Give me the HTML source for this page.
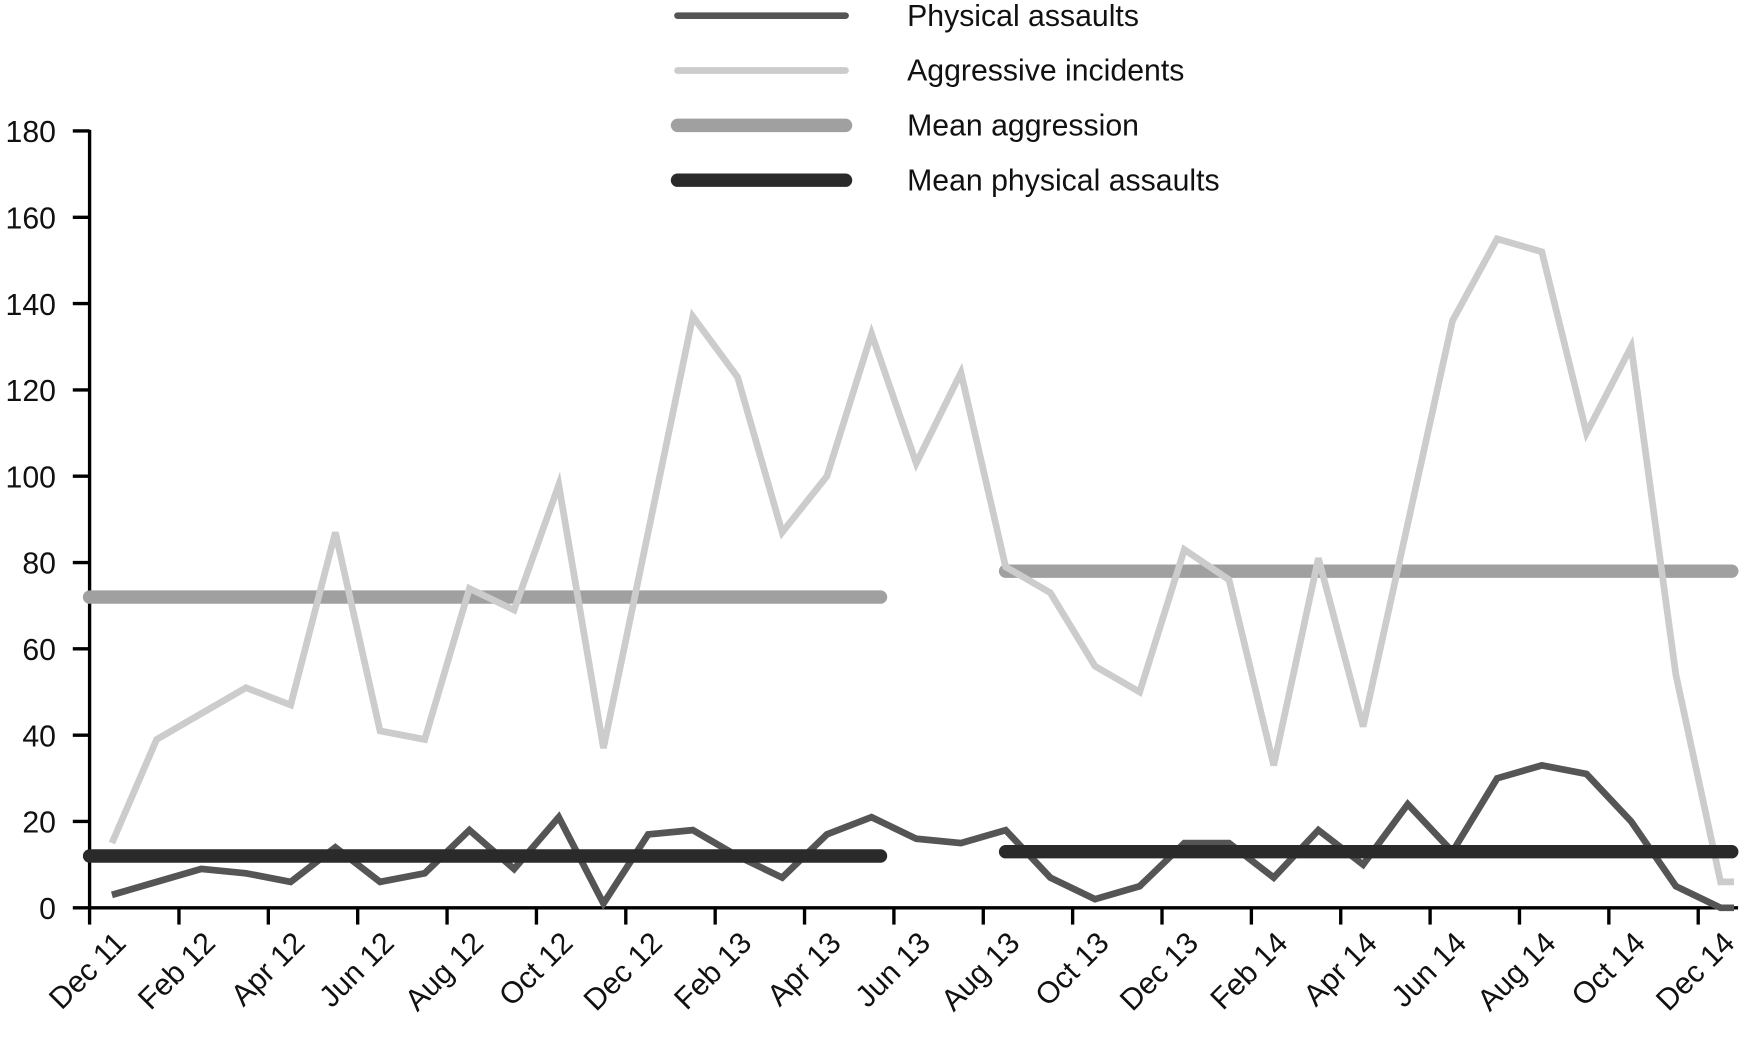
<!DOCTYPE html>
<html><head><meta charset="utf-8"><style>
html,body{margin:0;padding:0;background:#fff;width:1756px;height:1041px;overflow:hidden}
svg text{font-family:"Liberation Sans",sans-serif;fill:#111}
</style></head><body>
<svg id="chart" width="1756" height="1041" viewBox="0 0 1568 930" preserveAspectRatio="none" xmlns="http://www.w3.org/2000/svg">
<g id="legend">
 <g><line x1="605" y1="14" x2="755" y2="14" stroke="#555" stroke-width="6" stroke-linecap="round"/><text x="810" y="23" font-size="27">Physical assaults</text></g>
 <g><line x1="605" y1="63" x2="755" y2="63" stroke="#ccc" stroke-width="6" stroke-linecap="round"/><text x="810" y="72" font-size="27">Aggressive incidents</text></g>
 <g><line x1="605" y1="112" x2="755" y2="112" stroke="#a0a0a0" stroke-width="12" stroke-linecap="round"/><text x="810" y="121" font-size="27">Mean aggression</text></g>
 <g><line x1="605" y1="161" x2="755" y2="161" stroke="#2a2a2a" stroke-width="12" stroke-linecap="round"/><text x="810" y="170" font-size="27">Mean physical assaults</text></g>
</g>
<g id="axes"></g>
<g id="series"></g>
</svg>
<script>
const xTickLabels=["Dec 11","Feb 12","Apr 12","Jun 12","Aug 12","Oct 12","Dec 12","Feb 13","Apr 13","Jun 13","Aug 13","Oct 13","Dec 13","Feb 14","Apr 14","Jun 14","Aug 14","Oct 14","Dec 14"];
const yTicks=[0,20,40,60,80,100,120,140,160,180];
const aggressive=[15,39,45,51,47,87,41,39,74,69,98,37,87,137,123,87,100,133,103,124,79,73,56,50,83,76,33,81,42,89,136,155,152,110,130,54,6];
const physical=[3,6,9,8,6,14,6,8,18,9,21,1,17,18,12,7,17,21,16,15,18,7,2,5,15,15,7,18,10,24,13,30,33,31,20,5,0];
const meanAggression=[{from:0,to:17.7,value:72},{from:20.5,to:36.75,value:78}];
const meanPhysical=[{from:0,to:17.7,value:12},{from:20.5,to:36.75,value:13}];

const NS="http://www.w3.org/2000/svg";
const X0=80,PM=39.9,OFF=0.5,Y0=811,YT=117,YMAX=180;
const xMonth=m=>X0+m*PM;
const xPt=i=>xMonth(i+OFF);
const y=v=>Y0-(v/YMAX)*(Y0-YT);
function mk(tag,attrs,parent){const e=document.createElementNS(NS,tag);for(const k in attrs)e.setAttribute(k,attrs[k]);parent.appendChild(e);return e;}
const axes=document.getElementById('axes'),series=document.getElementById('series');

let e=mk('line',{x1:X0,y1:YT-1,x2:X0,y2:Y0+1,stroke:'#000','stroke-width':3},axes);


e=mk('line',{x1:X0-1,y1:Y0,x2:1552,y2:Y0,stroke:'#000','stroke-width':3},axes);


yTicks.forEach(v=>{
 let t=mk('line',{x1:X0-15,y1:y(v),x2:X0,y2:y(v),stroke:'#000','stroke-width':3},axes);
 
 
 let l=mk('text',{x:50,y:y(v)+10,'font-size':27,'text-anchor':'end'},axes);l.textContent=v;
 
 
});
xTickLabels.forEach((s,i)=>{
 const x=xMonth(i*2);
 let t=mk('line',{x1:x,y1:Y0,x2:x,y2:Y0+15,stroke:'#000','stroke-width':3},axes);
 
 
 const lx=x+34,ly=Y0+33;
 let l=mk('text',{x:lx,y:ly,'font-size':27,'text-anchor':'end',transform:`rotate(-45 ${lx} ${ly})`},axes);l.textContent=s;
 
 
});
function poly(vals,color,w,name){
 let pts=vals.map((v,i)=>[xPt(i),y(v)]);
 const last=pts[pts.length-1];pts.push([last[0]+12,last[1]]);
 let p=mk('polyline',{points:pts.map(p=>p.join(',')).join(' '),fill:'none',stroke:color,'stroke-width':w,'stroke-linejoin':'miter'},series);
 
 
}
function means(arr,color,name){
 arr.forEach(s=>{
  let l=mk('line',{x1:xMonth(s.from),y1:y(s.value),x2:xMonth(s.to),y2:y(s.value),stroke:color,'stroke-width':12,'stroke-linecap':'round'},series);
  
  
 });
}
means(meanAggression,'#a0a0a0','mean-aggression-line');
poly(aggressive,'#cccccc',6,'aggressive-incidents-line');
poly(physical,'#555555',6,'physical-assaults-line');
means(meanPhysical,'#2a2a2a','mean-physical-assaults-line');
</script>
</body></html>
